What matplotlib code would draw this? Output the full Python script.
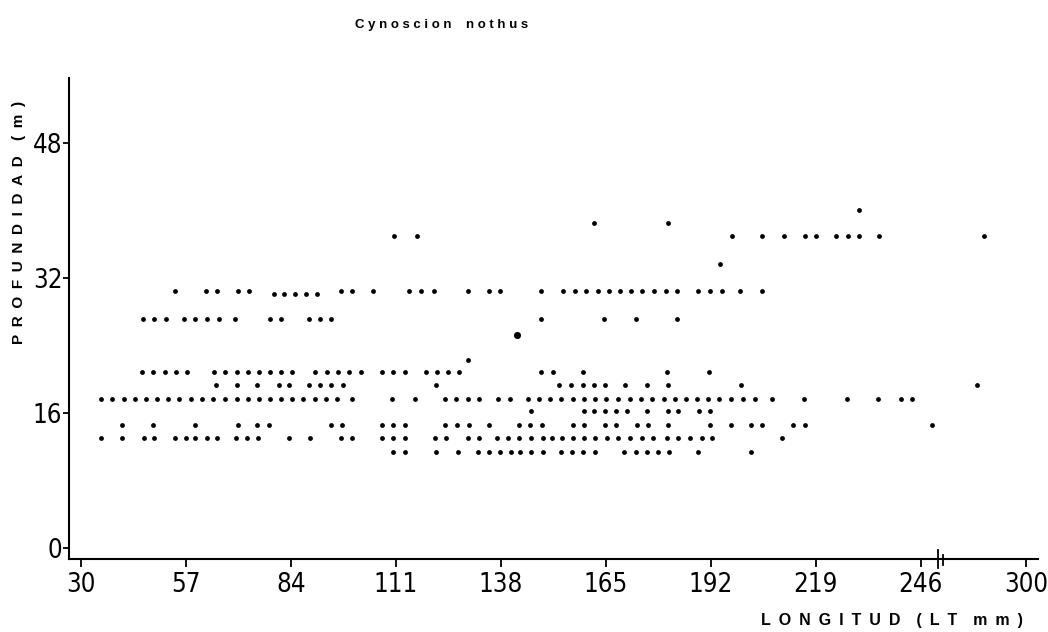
import matplotlib
matplotlib.use("Agg")
import matplotlib.pyplot as plt
from matplotlib import font_manager as fm
import matplotlib.transforms as mtransforms

# ---------------- data (length in mm, depth in m) ----------------
depth_levels = [11.4, 13.0, 14.6, 16.2, 17.7, 19.3, 20.9, 22.3,
                27.2, 30.1, 30.4, 33.7, 37.0, 38.5, 40.0]

len_d11_4 = [110.4, 113.4, 121.3, 126.9, 132.1, 135.0, 137.9, 140.6, 142.9, 145.8,
             148.8, 153.4, 156.3, 159.1, 162.2, 169.7, 172.7, 175.5, 178.5, 181.3,
             188.6, 202.4]
len_d13_0 = [35.1, 40.7, 46.3, 48.8, 54.2, 57.1, 59.4, 62.4, 65.0, 69.8, 72.7, 75.7,
             83.5, 88.9, 96.8, 99.7, 107.5, 110.4, 113.4, 121.1, 123.9, 129.6, 132.4,
             136.9, 139.8, 142.7, 145.8, 148.8, 151.1, 153.7, 156.5, 159.5, 162.2,
             165.3, 168.2, 171.3, 174.4, 177.2, 180.6, 183.6, 186.6, 189.6, 192.4,
             210.4]
len_d14_6 = [40.7, 48.6, 59.5, 70.4, 75.4, 78.3, 94.3, 97.2, 107.5, 110.4, 113.4,
             123.7, 126.7, 129.8, 135.0, 142.7, 145.6, 148.5, 156.6, 159.4, 164.7,
             167.5, 173.1, 175.9, 181.0, 191.9, 197.3, 202.3, 205.1, 213.2, 216.1,
             248.8]
len_d16_2 = [145.8, 159.3, 162.0, 164.8, 167.5, 170.5, 175.5, 180.9, 183.6, 189.0,
             191.8]
len_d17_7 = [35.1, 38.1, 41.1, 43.9, 46.8, 49.6, 52.5, 55.3, 58.3, 61.2, 64.1, 67.2,
             70.1, 72.9, 75.8, 78.7, 81.5, 84.4, 87.2, 90.2, 93.1, 95.9, 99.7, 110.1,
             115.9, 123.7, 126.6, 129.5, 132.3, 137.3, 140.4, 145.1, 147.8, 150.6,
             153.5, 156.5, 159.3, 162.2, 165.0, 168.0, 171.2, 174.0, 176.9, 179.9,
             182.8, 185.6, 188.4, 191.3, 194.2, 197.3, 200.3, 203.3, 207.8, 216.0,
             227.0, 235.0, 240.9, 243.7]
len_d19_3 = [64.8, 70.3, 75.2, 80.9, 83.6, 88.6, 91.5, 94.4, 97.4, 121.3, 153.0,
             156.0, 159.1, 162.0, 164.8, 169.9, 175.7, 180.9, 199.7, 260.5]
len_d20_9 = [45.8, 48.7, 51.6, 54.4, 57.2, 64.3, 67.2, 70.1, 72.9, 75.8, 78.7, 81.5,
             84.3, 90.3, 93.2, 96.1, 99.1, 102.1, 107.5, 110.4, 113.4, 118.7, 121.6,
             124.4, 127.2, 148.3, 151.3, 159.2, 180.8, 191.6]
len_d22_3 = [129.5]
len_d27_2 = [46.1, 48.9, 51.9, 56.5, 59.4, 62.5, 65.6, 69.7, 78.6, 81.5, 88.6, 91.5,
             94.3, 148.3, 164.6, 172.7, 183.4]
len_d30_1 = [79.6, 82.3, 85.2, 88.0, 90.7]
len_d30_4 = [54.2, 62.1, 65.0, 70.4, 73.3, 96.9, 99.8, 105.2, 114.5, 117.6, 120.7,
             129.6, 135.0, 137.9, 148.3, 154.1, 157.1, 159.9, 162.9, 165.7, 168.6,
             171.4, 174.4, 177.4, 180.4, 183.2, 188.8, 191.7, 194.8, 199.5, 205.1]
len_d33_7 = [194.3]
len_d37_0 = [110.5, 116.4, 197.5, 205.1, 210.7, 216.2, 219.1, 224.2, 227.3, 230.2,
             235.1, 262.3]
len_d38_5 = [161.9, 181.0]
len_d40_0 = [230.0]

big_len = [142.1]
big_depth = [25.2]

x_ticks = [30, 57, 84, 111, 138, 165, 192, 219, 246, 273]
x_tick_labels = ["30", "57", "84", "111", "138", "165", "192", "219", "246", "300"]
y_ticks = [0, 16, 32, 48]
y_tick_labels = ["0", "16", "32", "48"]

EN = "\u2002"
title_text = "C y n o s c i o n    n o t h u s"
xlabel_text = EN.join("LONGITUD") + EN + EN + "(" + EN + "L" + EN + "T" + EN + EN + "m" + EN + "m" + EN + ")"
ylabel_text = EN.join("PROFUNDIDAD") + EN + EN + "(" + EN + "m" + EN + ")"

rows = [len_d11_4, len_d13_0, len_d14_6, len_d16_2, len_d17_7, len_d19_3, len_d20_9,
        len_d22_3, len_d27_2, len_d30_1, len_d30_4, len_d33_7, len_d37_0, len_d38_5,
        len_d40_0]


# ---------------- fonts ----------------
def find_condensed():
    prefs = ["Liberation Sans Narrow", "DejaVu Sans", "Noto Sans", "Roboto",
             "Open Sans", "Lato", "Inter"]
    cands = []
    for f in fm.fontManager.ttflist:
        st = str(f.stretch).lower()
        nm = f.name.lower()
        fn = f.fname.lower()
        cond = ("condensed" in st or "narrow" in nm or "narrow" in fn
                or "condensed" in fn or "condensed" in nm)
        if not cond or "extra" in st or "ultra" in st or "extra" in fn:
            continue
        if f.style != "normal":
            continue
        w = f.weight if isinstance(f.weight, int) else 400
        if w not in (400,) and str(f.weight) not in ("normal", "regular"):
            continue
        rank = prefs.index(f.name) if f.name in prefs else len(prefs)
        cands.append((rank, f.fname))
    cands.sort()
    return cands[0][1] if cands else None


avail = {f.name for f in fm.fontManager.ttflist}
bold_font = "Liberation Sans" if "Liberation Sans" in avail else "DejaVu Sans"
cond_file = find_condensed()
if cond_file:
    tick_fp = fm.FontProperties(fname=cond_file, size=18.5)
else:
    tick_fp = fm.FontProperties(family=bold_font, size=16)

# ---------------- figure ----------------
W, H = 1048, 632
fig = plt.figure(figsize=(W / 100, H / 100), dpi=100)
ax = fig.add_axes([69.3 / W, 1 - 559 / H, (1038 - 69.3) / W, (559 - 78) / H])

xs, ys = [], []
for d, lens in zip(depth_levels, rows):
    xs.extend(lens)
    ys.extend([d] * len(lens))
ax.scatter(xs, ys, s=12, c="black", marker="o", linewidths=0, zorder=3)
ax.scatter(big_len, big_depth, s=26, c="black", marker="o", linewidths=0, zorder=3)

ax.set_xlim(27.07, 276.1)
ax.set_ylim(-1.3, 55.7)

for side in ("top", "right"):
    ax.spines[side].set_visible(False)
for side in ("left", "bottom"):
    ax.spines[side].set_linewidth(1.5)
    ax.spines[side].set_color("black")

ax.set_xticks(x_ticks)
ax.set_xticklabels(x_tick_labels, fontproperties=tick_fp)
ax.set_yticks(y_ticks)
ax.set_yticklabels(y_tick_labels, fontproperties=tick_fp)
ax.tick_params(axis="x", direction="out", length=6, width=1.3, pad=3)
ax.tick_params(axis="y", direction="out", length=4, width=1.3, pad=1)

# axis break marks
trans = mtransforms.blended_transform_factory(ax.transData, ax.transAxes)
ax.plot([250.4, 250.4], [0.019, -0.019], transform=trans, color="black", lw=1.3,
        clip_on=False)
ax.plot([251.7, 251.7], [0.009, -0.013], transform=trans, color="black", lw=1.3,
        clip_on=False)

# texts
fig.text(442 / W, 1 - 25 / H, title_text, ha="center", va="center",
         fontfamily=bold_font, fontweight="bold", fontsize=9.5)
fig.text(892 / W, 1 - 620 / H, xlabel_text, ha="center", va="center",
         fontfamily=[bold_font, "DejaVu Sans"], fontweight="bold", fontsize=11.5)
fig.text(19 / W, 1 - 222 / H, ylabel_text, ha="center", va="center", rotation=90,
         fontfamily=[bold_font, "DejaVu Sans"], fontweight="bold", fontsize=11)

fig.savefig("out.png", dpi=100, facecolor="white")
